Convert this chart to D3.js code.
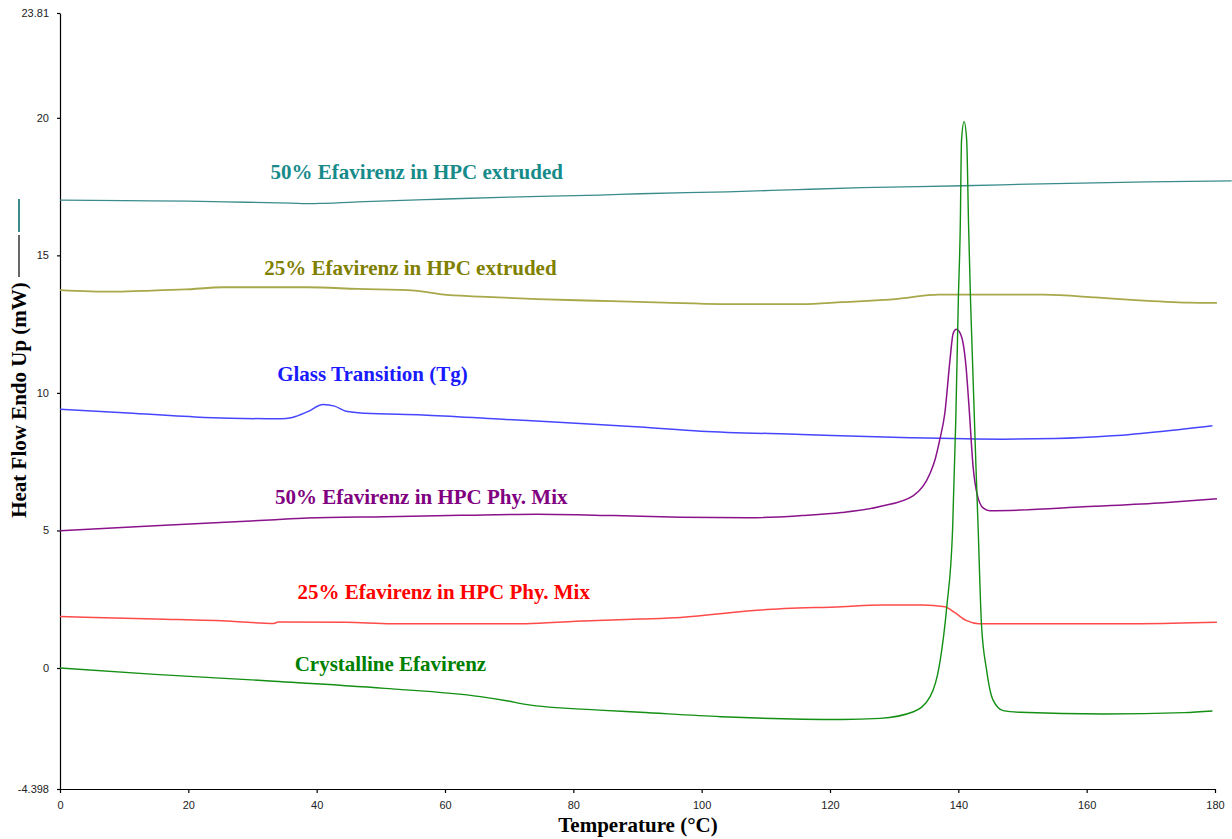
<!DOCTYPE html>
<html>
<head>
<meta charset="utf-8">
<script src="https://cdn.jsdelivr.net/npm/d3@7"></script>
<style>
  html, body { margin: 0; padding: 0; background: #ffffff; }
  svg { display: block; }
</style>
</head>
<body>
<svg id="chart" width="1232" height="839"></svg>
<script>
// DSC thermograms: heat flow (mW) against temperature (°C)

const xTicks = [0, 20, 40, 60, 80, 100, 120, 140, 160, 180];
const yTicks = [-4.398, 0, 5, 10, 15, 20, 23.81];
const yTickLabels = ["-4.398", "0", "5", "10", "15", "20", "23.81"];

// [temperature, heat flow]
const extruded50 = [
  [0, 17.01], [10, 16.99], [20, 16.97], [29, 16.93], [36, 16.90], [39, 16.88], [41, 16.89],
  [47.5, 16.95], [59, 17.04], [70, 17.12], [84, 17.19], [90.4, 17.24], [104, 17.31],
  [115, 17.39], [125, 17.46], [140.7, 17.53], [153, 17.60], [169.5, 17.67], [182.6, 17.71]
];
const extruded25 = [
  [0, 13.74], [8.2, 13.68], [13, 13.71], [19.5, 13.76], [25.5, 13.84], [38.6, 13.84],
  [46.4, 13.78], [55.3, 13.72], [59.5, 13.58], [65.5, 13.50], [74.4, 13.41], [83.4, 13.35],
  [94.2, 13.28], [103, 13.23], [115.6, 13.23], [121.9, 13.30], [130.6, 13.42], [136.9, 13.57],
  [153.2, 13.57], [161.4, 13.47], [167, 13.38], [175.9, 13.28], [180.3, 13.27]
];
const glassTransition = [
  [0, 9.41], [10.6, 9.27], [22.5, 9.11], [34.4, 9.06], [36.2, 9.11], [38.6, 9.32], [41, 9.58],
  [42.8, 9.52], [44.6, 9.33], [47.5, 9.26], [56.5, 9.20], [68.4, 9.05], [80.4, 8.90],
  [90.4, 8.76], [99.9, 8.61], [115.6, 8.49], [132.5, 8.37], [147, 8.32], [155.1, 8.34],
  [164, 8.44], [172, 8.61], [179.6, 8.81]
];
const physMix50 = [
  [0, 4.99], [14.8, 5.17], [32.7, 5.38], [38.6, 5.45], [50.6, 5.50], [62.5, 5.55], [74.4, 5.59],
  [86.3, 5.54], [96.7, 5.48], [107.4, 5.46], [115.6, 5.54], [121.8, 5.65], [127.8, 5.87],
  [133, 6.27], [135.6, 7.08], [136.4, 7.60], [137.1, 8.29], [137.9, 9.27], [138.7, 11.2],
  [139.2, 12.17], [139.7, 12.31], [140.5, 12.04], [141.2, 10.95], [141.7, 9.38], [142.3, 7.32],
  [142.9, 6.35], [143.9, 5.81], [144.9, 5.72], [149.6, 5.74], [159.5, 5.86], [172, 6.01],
  [180.3, 6.15]
];
const physMix25 = [
  [0, 1.87], [14.8, 1.78], [26.7, 1.70], [33.3, 1.62], [34, 1.67], [44.6, 1.66], [51.7, 1.61],
  [72.6, 1.61], [80.4, 1.70], [90.4, 1.78], [96.7, 1.84], [109.2, 2.11], [121.8, 2.23],
  [128.1, 2.29], [134.4, 2.29], [137.9, 2.23], [139.4, 2.02], [141.3, 1.72], [143.2, 1.61],
  [168.3, 1.61], [180.3, 1.66]
];
const crystalline = [
  [0, 0.0], [14.8, -0.23], [32.7, -0.47], [50.6, -0.74], [65.5, -1.04], [69.6, -1.19],
  [72.6, -1.32], [84, -1.53], [90.4, -1.61], [103, -1.77], [121.8, -1.87], [127.8, -1.83],
  [133, -1.59], [135.6, -1.04], [137.1, 0.17], [138.2, 2.23], [139.1, 5.0], [139.6, 9.0],
  [140.0, 13.38], [140.3, 16.04], [140.5, 19.19], [140.9, 19.86], [141.3, 19.19],
  [141.6, 16.04], [141.9, 13.38], [143.1, 5.0], [143.6, 1.62], [144.4, -0.07], [145.4, -1.16],
  [147, -1.55], [149.6, -1.61], [162.7, -1.67], [175.2, -1.62], [179.6, -1.56]
];

const seriesNames = [
  "50% Efavirenz in HPC extruded",
  "25% Efavirenz in HPC extruded",
  "Glass Transition (Tg)",
  "50% Efavirenz in HPC Phy. Mix",
  "25% Efavirenz in HPC Phy. Mix",
  "Crystalline Efavirenz"
];
const seriesData = [extruded50, extruded25, glassTransition, physMix50, physMix25, crystalline];
// label anchors in data units: [temperature, heat flow]
const labelAnchors = [[55.6, 18.03], [54.6, 14.54], [48.7, 10.69], [56.3, 6.22], [59.8, 2.76], [51.5, 0.15]];

const lineColors = ["#3a8c8c", "#a8a84a", "#4646ff", "#8a128a", "#ff4a4a", "#138f13"];
const textColors = ["#178a8a", "#808000", "#1a1aff", "#800080", "#ff0000", "#008000"];
const lineWidths = [1.3, 1.8, 1.5, 1.5, 1.5, 1.4];

const svg = d3.select("#chart");

const x = d3.scaleLinear().domain([0, 180]).range([60, 1215]);
const y = d3.scaleLinear().domain([-4.398, 23.81]).range([789, 13]);

// axes
const xAxis = d3.axisBottom(x).tickValues(xTicks).tickFormat(d3.format("d"))
  .tickSize(4).tickSizeOuter(0).tickPadding(8);
const yAxis = d3.axisLeft(y).tickValues(yTicks)
  .tickFormat((d, i) => yTickLabels[i]).tickSize(3).tickSizeOuter(0).tickPadding(8);

const gx = svg.append("g").attr("transform", "translate(0,789)").call(xAxis);
const gy = svg.append("g").attr("transform", "translate(60,0)").call(yAxis);

[gx, gy].forEach(g => {
  g.select(".domain").attr("stroke", "#000").attr("stroke-width", 1.2);
  g.selectAll(".tick line").attr("stroke", "#000").attr("stroke-width", 1.2);
  g.selectAll(".tick text")
    .attr("fill", "#222")
    .style("font-family", "'Liberation Sans', Arial, sans-serif")
    .style("font-size", "11px");
});

// traces
const line = d3.line()
  .x(d => x(d[0]))
  .y(d => y(d[1]))
  .curve(d3.curveMonotoneX);

svg.append("g")
  .selectAll("path")
  .data(seriesData)
  .join("path")
  .attr("d", line)
  .attr("fill", "none")
  .attr("stroke", (d, i) => lineColors[i])
  .attr("stroke-width", (d, i) => lineWidths[i])
  .attr("stroke-linejoin", "round");

// trace labels
svg.append("g")
  .selectAll("text")
  .data(seriesNames)
  .join("text")
  .attr("x", (d, i) => x(labelAnchors[i][0]))
  .attr("y", (d, i) => y(labelAnchors[i][1]))
  .attr("dy", "0.35em")
  .attr("text-anchor", "middle")
  .attr("fill", (d, i) => textColors[i])
  .style("font-family", "'Liberation Serif', 'Times New Roman', serif")
  .style("font-weight", "bold")
  .style("font-size", "21px")
  .text(d => d);

// axis titles
svg.append("text")
  .attr("x", 638)
  .attr("y", 832)
  .attr("text-anchor", "middle")
  .attr("fill", "#000")
  .style("font-family", "'Liberation Serif', 'Times New Roman', serif")
  .style("font-weight", "bold")
  .style("font-size", "21px")
  .text("Temperature (°C)");

svg.append("text")
  .attr("transform", "translate(26,400) rotate(-90)")
  .attr("text-anchor", "middle")
  .attr("fill", "#000")
  .style("font-family", "'Liberation Serif', 'Times New Roman', serif")
  .style("font-weight", "bold")
  .style("font-size", "21px")
  .text("Heat Flow Endo Up (mW)");

// line sample after the y title
svg.append("line")
  .attr("x1", 19).attr("x2", 19).attr("y1", 235).attr("y2", 277)
  .attr("stroke", "#000").attr("stroke-width", 1.2);
svg.append("line")
  .attr("x1", 19).attr("x2", 19).attr("y1", 199).attr("y2", 232)
  .attr("stroke", lineColors[0]).attr("stroke-width", 2);
</script>
</body>
</html>
